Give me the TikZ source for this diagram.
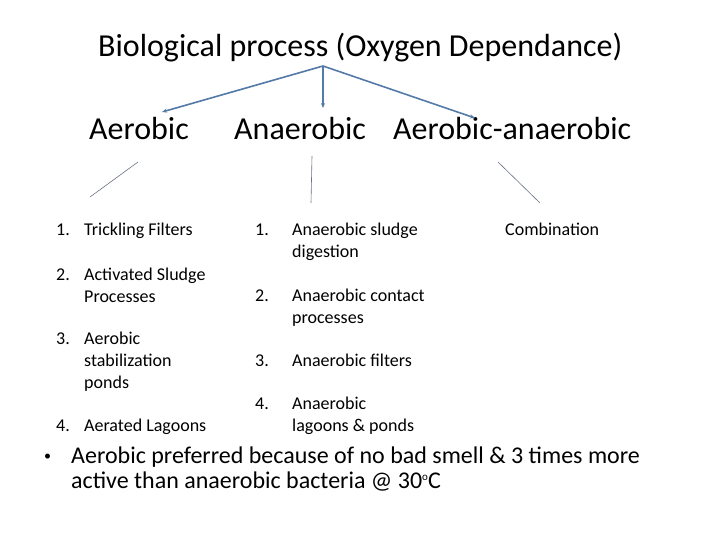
\documentclass[tikz,border=0pt]{standalone}
\usepackage{fontspec}
\setmainfont{Carlito}
\usepackage{tikz}
\usetikzlibrary{positioning, arrows.meta, calc}
\definecolor{arrowblue}{RGB}{84, 122, 168}
\definecolor{linegray}{RGB}{105, 115, 130}

\begin{document}
\begin{tikzpicture}[
      x=1pt, y=-1pt,
      txt/.style={inner sep=0pt, anchor=base west},
      head/.style={txt, font=\fontsize{32}{38}\selectfont},
      items/.style={txt, font=\fontsize{18}{22}\selectfont},
      arr/.style={-{Stealth[length=5pt, width=4pt]}, line width=1.6pt, arrowblue},
      thin/.style={line width=0.6pt, linegray}
    ]
      \useasboundingbox (0,0) rectangle (720,540);

      \node[head] (title) at (98,57) {Biological process (Oxygen Dependance)};
      \coordinate (top) at (323,66);

      \node[head] (aer) at (89,140) {Aerobic};
      \node[head] (anaer) at (234,140) {Anaerobic};
      \node[head] (mixed) at (393,140) {Aerobic-anaerobic};

      \draw[arr] (top) -- ($(aer.base west)+(73,-28)$);
      \draw[arr] (top) -- ($(anaer.base west)+(89,-32)$);
      \draw[arr] (top) -- ($(mixed.base west)+(82,-22)$);

      % strokes under the three groups
      \coordinate (a1) at (138,162); \coordinate (a2) at (90,197);
      \coordinate (b1) at (312,156); \coordinate (b2) at (311,203);
      \coordinate (c1) at (498,162); \coordinate (c2) at (540,203);
      \draw[thin] (a1) -- (a2);
      \draw[thin] (b1) -- (b2);
      \draw[thin] (c1) -- (c2);

      % aerobic list
      \node[items] (aer1) at (56,236) {\begin{tabular}[t]{@{}p{28pt}@{}l@{}}1. & Trickling Filters\end{tabular}};
      \node[items] (aer2) at (56,280) {\begin{tabular}[t]{@{}p{28pt}@{}l@{}}2. & Activated Sludge\\ & Processes\end{tabular}};
      \node[items] (aer3) at (56,344) {\begin{tabular}[t]{@{}p{28pt}@{}l@{}}3. & Aerobic\\ & stabilization\\ & ponds\end{tabular}};
      \node[items] (aer4) at (56,431) {\begin{tabular}[t]{@{}p{28pt}@{}l@{}}4. & Aerated Lagoons\end{tabular}};

      % anaerobic list
      \node[items] (an1) at (255,236) {\begin{tabular}[t]{@{}p{37pt}@{}l@{}}1. & Anaerobic sludge\\ & digestion\end{tabular}};
      \node[items] (an2) at (255,301) {\begin{tabular}[t]{@{}p{37pt}@{}l@{}}2. & Anaerobic contact\\ & processes\end{tabular}};
      \node[items] (an3) at (255,366) {\begin{tabular}[t]{@{}p{37pt}@{}l@{}}3. & Anaerobic filters\end{tabular}};
      \node[items] (an4) at (255,409) {\begin{tabular}[t]{@{}p{37pt}@{}l@{}}4. & Anaerobic\\ & lagoons \& ponds\end{tabular}};

      \node[items] (comb) at (505,236) {Combination};

      % note
      \node[txt, font=\fontsize{24}{25}\selectfont] (note) at (44,463)
        {\begin{tabular}[t]{@{}p{27pt}@{}l@{}}\raisebox{2.5pt}{\fontsize{14}{14}\selectfont\textbullet} & Aerobic preferred because of no bad smell \& 3 times more\\
         & active than anaerobic bacteria @ 30\raisebox{8pt}{\fontsize{11}{11}\selectfont o}C\end{tabular}};
    \end{tikzpicture}
\end{document}
